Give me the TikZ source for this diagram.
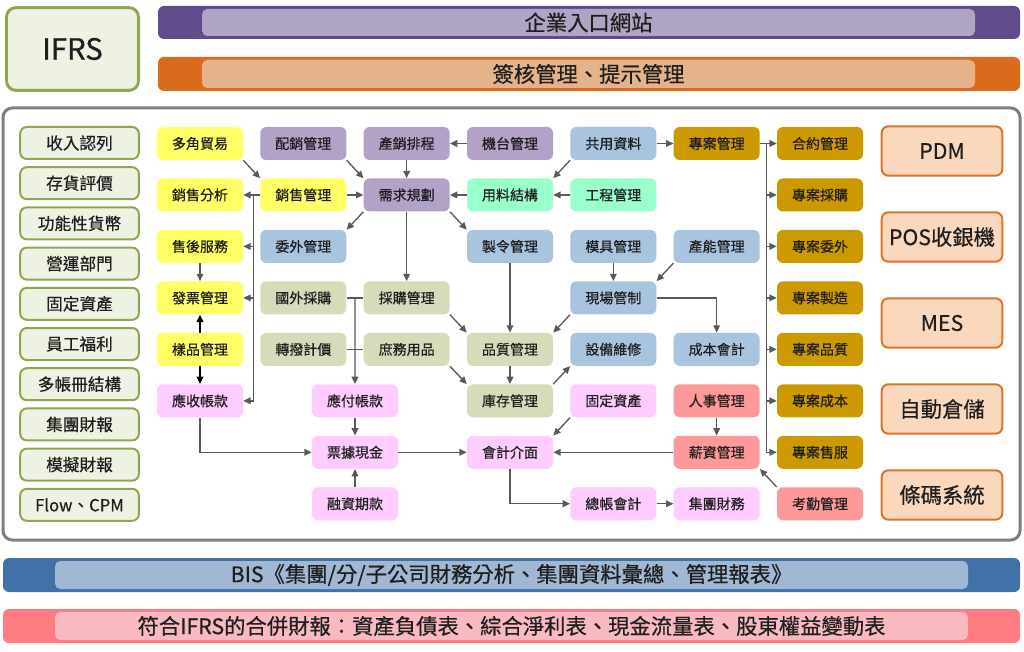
\documentclass[tikz,border=0pt]{standalone}
\usepackage{fontspec}
\setmainfont{Noto Sans CJK TC}[FakeBold=0.5]
\usetikzlibrary{positioning,calc,arrows.meta}
\definecolor{ink}{HTML}{1E1E1E}
\definecolor{linegray}{HTML}{595959}
\definecolor{framegray}{HTML}{7F7F7F}
\definecolor{saleyel}{HTML}{FFFF66}
\definecolor{planvio}{HTML}{B3A2C7}
\definecolor{prodblue}{HTML}{A9C4DF}
\definecolor{bommint}{HTML}{99FFCC}
\definecolor{buyolive}{HTML}{D6DCBA}
\definecolor{acctpink}{HTML}{FFCCFF}
\definecolor{hrsalmon}{HTML}{FF9999}
\definecolor{projgold}{HTML}{CC9900}
\definecolor{ifrsfill}{HTML}{EEF2E3}
\definecolor{ifrsline}{HTML}{8FA650}
\definecolor{extfill}{HTML}{FAD8BE}
\definecolor{extline}{HTML}{E07327}
\definecolor{portdark}{HTML}{604C8A}
\definecolor{portlight}{HTML}{B0A4C5}
\definecolor{signdark}{HTML}{D86C1C}
\definecolor{signlight}{HTML}{E4B38A}
\definecolor{bisdark}{HTML}{4271A8}
\definecolor{bislight}{HTML}{A0B8D3}
\definecolor{repdark}{HTML}{FF7C80}
\definecolor{replight}{HTML}{F8B9C1}

\begin{document}
\begin{tikzpicture}[x=0.75pt, y=-0.75pt,
		node distance=38.6pt and 77.5pt, on grid,
		box/.style={rounded corners=4.5pt, minimum width=64.5pt, minimum height=24.75pt, inner sep=1pt, text=ink, font=\fontsize{10.5pt}{12pt}\selectfont},
		sale/.style={box, fill=saleyel},
		plan/.style={box, fill=planvio},
		prod/.style={box, fill=prodblue},
		bom/.style={box, fill=bommint},
		buy/.style={box, fill=buyolive},
		acct/.style={box, fill=acctpink},
		hr/.style={box, fill=hrsalmon},
		proj/.style={box, fill=projgold},
		ifrs/.style={draw=ifrsline, fill=ifrsfill, line width=1.5pt, rounded corners=5pt, minimum width=89pt, minimum height=24pt, inner sep=1pt, text=ink, font=\fontsize{12.5pt}{14pt}\selectfont},
		ext/.style={draw=extline, fill=extfill, line width=1.5pt, rounded corners=5pt, minimum width=90.5pt, minimum height=37pt, inner sep=1pt, text=ink, font=\fontsize{16pt}{19pt}\selectfont},
		bartext/.style={inner sep=0pt, text=ink, font=\fontsize{16pt}{19pt}\selectfont},
		conn/.style={draw=linegray, line width=1pt, -{Triangle[length=5.5pt, width=5pt]}},
		wire/.style={draw=linegray, line width=1pt},
	]
	\useasboundingbox (0,0) rectangle (1024,652);

	\fill [portdark, rounded corners=4.5pt] (158,6) rectangle (1020,39);
	\fill [portlight, rounded corners=4pt] (202,9) rectangle (975,36);
	\node [bartext] (portal) at (588.5,22.5) {企業入口網站};
	\fill [signdark, rounded corners=4.5pt] (158,57) rectangle (1020,91);
	\fill [signlight, rounded corners=4pt] (202,60) rectangle (975,88);
	\node [bartext] (sign) at (588.5,74) {簽核管理、提示管理};
	\fill [bisdark, rounded corners=4.5pt] (3,558) rectangle (1020,592);
	\fill [bislight, rounded corners=4pt] (55,561) rectangle (968,589);
	\node [bartext] (bis) at (511.5,575) {BIS《集團/分/子公司財務分析、集團資料彙總、管理報表》};
	\fill [repdark, rounded corners=4.5pt] (3,609) rectangle (1020,643);
	\fill [replight, rounded corners=4pt] (55,612) rectangle (968,640);
	\node [bartext] (report) at (511.5,626) {符合IFRS的合併財報：資產負債表、綜合淨利表、現金流量表、股東權益變動表};

	\node [ifrs, minimum width=99pt, minimum height=62pt, line width=2.2pt, rounded corners=7pt, font=\fontsize{22pt}{26pt}\selectfont] (std) at (72.5,49) {IFRS};
	\draw [framegray, fill=white, line width=2.25pt, rounded corners=7pt] (3,108) rectangle (1020,540);

	\node [ifrs] (l1) at (79.5,143) {收入認列};
	\node [ifrs, below=30.15pt of l1] (l2) {存貨評價};
	\node [ifrs, below=30.15pt of l2] (l3) {功能性貨幣};
	\node [ifrs, below=30.15pt of l3] (l4) {營運部門};
	\node [ifrs, below=30.15pt of l4] (l5) {固定資產};
	\node [ifrs, below=30.15pt of l5] (l6) {員工福利};
	\node [ifrs, below=30.15pt of l6] (l7) {多帳冊結構};
	\node [ifrs, below=30.15pt of l7] (l8) {集團財報};
	\node [ifrs, below=30.15pt of l8] (l9) {模擬財報};
	\node [ifrs, below=30.15pt of l9] (l10) {Flow、CPM};

	\node [ext] (e1) at (942,151) {PDM};
	\node [ext, below=64.5pt of e1] (e2) {POS收銀機};
	\node [ext, below=64.5pt of e2] (e3) {MES};
	\node [ext, below=64.5pt of e3] (e4) {自動倉儲};
	\node [ext, below=64.5pt of e4] (e5) {條碼系統};

	\node [sale] (y1) at (200,143.5) {多角貿易};
	\node [plan, right=of y1] (v1) {配銷管理};
	\node [plan, right=of v1] (v2) {產銷排程};
	\node [plan, right=of v2] (v3) {機台管理};
	\node [prod, right=of v3] (b1) {共用資料};
	\node [proj, right=of b1] (g1) {專案管理};
	\node [proj, right=of g1] (g2) {合約管理};

	\node [sale, below=of y1] (y2) {銷售分析};
	\node [sale, below=of v1] (y3) {銷售管理};
	\node [plan, below=of v2] (v4) {需求規劃};
	\node [bom, below=of v3] (m1) {用料結構};
	\node [bom, below=of b1] (m2) {工程管理};
	\node [proj, below=of g2] (g3) {專案採購};

	\node [sale, below=of y2] (y4) {售後服務};
	\node [prod, below=of y3] (b2) {委外管理};
	\node [prod, below=of m1] (b3) {製令管理};
	\node [prod, below=of m2] (b4) {模具管理};
	\node [proj, below=of g3] (g4) {專案委外};
	\node [prod, left=of g4] (b5) {產能管理};

	\node [sale, below=of y4] (y5) {發票管理};
	\node [buy, below=of b2] (o1) {國外採購};
	\node [buy, right=of o1] (o2) {採購管理};
	\node [prod, below=of b4] (b6) {現場管制};
	\node [proj, below=of g4] (g5) {專案製造};

	\node [sale, below=of y5] (y6) {樣品管理};
	\node [buy, below=of o1] (o3) {轉撥計價};
	\node [buy, below=of o2] (o4) {庶務用品};
	\node [buy, right=of o4] (o5) {品質管理};
	\node [prod, below=of b6] (b7) {設備維修};
	\node [prod, right=of b7] (b8) {成本會計};
	\node [proj, below=of g5] (g6) {專案品質};

	\node [acct, below=of y6] (k1) {應收帳款};
	\node [acct, below right=38.6pt and 38.75pt of o3] (k2) {應付帳款};
	\node [buy, below=of o5] (o6) {庫存管理};
	\node [acct, below=of b7] (k3) {固定資產};
	\node [hr, below=of b8] (r1) {人事管理};
	\node [proj, below=of g6] (g7) {專案成本};

	\node [acct, below=of k2] (k4) {票據現金};
	\node [acct, below=of o6] (k5) {會計介面};
	\node [hr, below=of r1] (r2) {薪資管理};
	\node [proj, below=of g7] (g8) {專案售服};

	\node [acct, below=of k4] (k6) {融資期款};
	\node [acct, below right=38.6pt and 77.5pt of k5] (k7) {總帳會計};
	\node [acct, right=of k7] (k8) {集團財務};
	\node [hr, right=of k8] (r3) {考勤管理};

	\coordinate (bus) at ($(g1.east)+(6.5,0)$);
	\coordinate (sbus) at ($(y3.west)!.4!(y2.east)$);
	\coordinate (pbus) at ($(o1.east)!.5!(o2.west)$);

	\draw [conn] (v3) -- (v2);
	\draw [conn] (b1) -- (g1);
	\draw [conn] (g1) -- (g2);
	\draw [wire] (bus) -- (bus |- g8);
	\draw [conn] (bus |- g3) -- (g3);
	\draw [conn] (bus |- g4) -- (g4);
	\draw [conn] (bus |- g5) -- (g5);
	\draw [conn] (bus |- g6) -- (g6);
	\draw [conn] (bus |- g7) -- (g7);
	\draw [conn] (bus |- g8) -- (g8);
	\draw [conn] (y1.south east) -- (y3.north west);
	\draw [conn] (v1.south east) -- (v4.north west);
	\draw [conn] (v2) -- (v4);
	\draw [conn] (y3) -- (v4);
	\draw [conn] (m1) -- (v4);
	\draw [conn] (m2) -- (m1);
	\draw [conn] (b1.south west) -- (m1.north east);
	\draw [conn] (v4.south west) -- (b2.north east);
	\draw [conn] (v4.south east) -- (b3.north west);
	\draw [conn] (v4) -- (o2);
	\draw [conn] (y3) -- (y2);
	\draw [conn] (sbus) |- (k1);
	\draw [conn] (sbus |- y4) -- (y4);
	\draw [conn] (sbus |- y5) -- (y5);
	\draw [conn] (y4) -- (y5);
	\draw [conn, draw=black] (y6) -- (y5);
	\draw [conn, draw=black] (y6) -- (k1);
	\draw [wire] (o1) -- (o2);
	\draw [wire] (o3) -- (o4);
	\draw [conn] (pbus) -- (k2);
	\draw [conn] (o2.south east) -- (o5.north west);
	\draw [conn] (o4.south east) -- (o6.north west);
	\draw [conn] (b3) -- (o5);
	\draw [conn] (b6.south west) -- (o5.north east);
	\draw [conn] (b4) -- (b6);
	\draw [conn] (b5.south west) -- (b6.north east);
	\draw [conn] (b6) -| (b8);
	\draw [conn] (o5) -- (o6);
	\draw [conn] (o6.north east) -- (b7.south west);
	\draw [conn] (k3.south west) -- (k5.north east);
	\draw [conn] (r1) -- (r2);
	\draw [conn] (r2) -- (k5);
	\draw [conn] (r3.north west) -- (r2.south east);
	\draw [conn] (k5) |- (k7);
	\draw [conn] (k7) -- (k8);
	\draw [conn] (k1) |- (k4);
	\draw [conn] (k2) -- (k4);
	\draw [conn] (k6) -- (k4);
	\draw [conn] (k4) -- (k5);
\end{tikzpicture}
\end{document}
